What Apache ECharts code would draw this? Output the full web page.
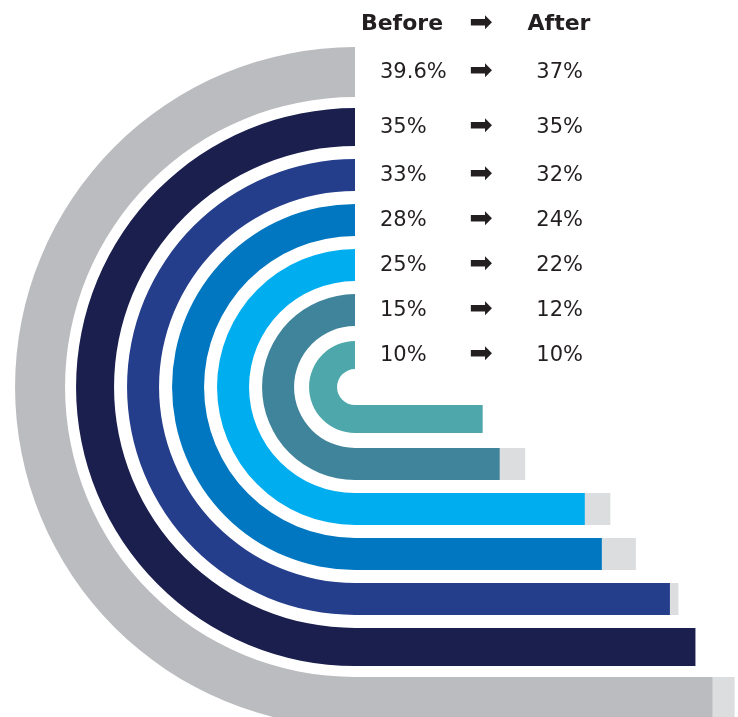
<!DOCTYPE html>
<html><head><meta charset="utf-8">
<script src="https://cdn.jsdelivr.net/npm/echarts@6/dist/echarts.min.js"></script>
<style>html,body{margin:0;padding:0;background:#fff}#c{width:738px;height:717px}</style>
</head><body><div id="c"></div>
<script>
// ---- data (inner ring first, outer ring last) ----
const rings = ['Ring 7', 'Ring 6', 'Ring 5', 'Ring 4', 'Ring 3', 'Ring 2', 'Ring 1'];
const beforeValues = [10, 15, 25, 28, 33, 35, 39.6];
const afterValues = [10, 12, 22, 24, 32, 35, 37];
const headerLabels = ['Before', 'After'];

// ---- styles ----
const ringColors = ['#4ea8ab', '#3f849b', '#00aeef', '#0077c0', '#243e8c', '#1b1f4e', '#bbbcbf'];
const beforeColor = '#dcdddf';
const ringWidths = [28, 32, 32, 32, 32, 38, 50];
const ringInsets = [14, 16, 16, 16, 16, 16, 12];
const CORE = 0.71;           // hole offset in bands
const X_MIN = -5, X_MAX = 40;
const FONT = '"DejaVu Sans", sans-serif';
const TEXT = '#231f20';
const ARROW = '\u27A1';
const ARROW_FONT = '"DejaVu Sans"';

const fmt = v => v + '%';

const chart = echarts.init(document.getElementById('c'), null, {renderer: 'canvas'});

function renderItem(params, api) {
  const idx = api.value(1);
  const a = api.value(0), b = api.value(2);
  const yc = api.coord([0, idx])[1];
  const band = api.size([0, 1])[1];
  const x0 = api.coord([X_MIN, idx])[0];
  const xa = api.coord([a, idx])[0];
  const xb = api.coord([b, idx])[0];
  const cy = api.coord([0, 0])[1] - band * CORE;
  const w = ringWidths[idx];
  const inner = yc - ringInsets[idx];
  const outer = inner + w;
  const r0 = inner - cy, r = outer - cy;
  const topMid = cy - (r0 + r) / 2;
  const color = ringColors[idx];
  const children = [];
  if (b > a) {
    children.push({type: 'rect', shape: {x: x0, y: inner, width: xb - x0, height: w}, style: {fill: beforeColor}});
  }
  children.push({type: 'rect', shape: {x: x0 - 0.5, y: inner, width: xa - x0 + 0.5, height: w}, style: {fill: color}});
  children.push({type: 'sector', shape: {cx: x0, cy: cy, r0: r0, r: r, startAngle: Math.PI / 2, endAngle: Math.PI * 1.5, clockwise: true}, style: {fill: color}});
  const txt = {fontFamily: FONT, fontSize: 21, fill: TEXT, verticalAlign: 'middle'};
  children.push({type: 'text', style: Object.assign({}, txt, {text: fmt(b), x: x0 + 25, y: topMid, align: 'left'})});
  children.push({type: 'text', style: Object.assign({}, txt, {text: ARROW, x: x0 + 126, y: topMid, align: 'center', fontFamily: ARROW_FONT, fontSize: 28})});
  children.push({type: 'text', style: Object.assign({}, txt, {text: fmt(a), x: x0 + 228, y: topMid, align: 'right'})});
  return {type: 'group', children: children};
}

chart.setOption({
  animation: false,
  backgroundColor: '#ffffff',
  grid: {left: 355, top: 396.5, width: 388, height: 315, containLabel: false},
  xAxis: {type: 'value', min: X_MIN, max: X_MAX, show: false},
  yAxis: {type: 'category', data: rings, inverse: true, show: false},
  graphic: [
    {type: 'text', x: 402, y: 24, style: {text: headerLabels[0], font: 'bold 22px ' + FONT, fill: TEXT, align: 'center', verticalAlign: 'middle'}},
    {type: 'text', x: 481, y: 24, style: {text: ARROW, font: '28px ' + ARROW_FONT, fill: TEXT, align: 'center', verticalAlign: 'middle'}},
    {type: 'text', x: 559, y: 24, style: {text: headerLabels[1], font: 'bold 22px ' + FONT, fill: TEXT, align: 'center', verticalAlign: 'middle'}}
  ],
  series: [{
    type: 'custom',
    clip: false,
    silent: true,
    renderItem: renderItem,
    encode: {x: 0, y: 1},
    data: rings.map((name, i) => [afterValues[i], name, beforeValues[i]])
  }]
});
</script></body></html>
